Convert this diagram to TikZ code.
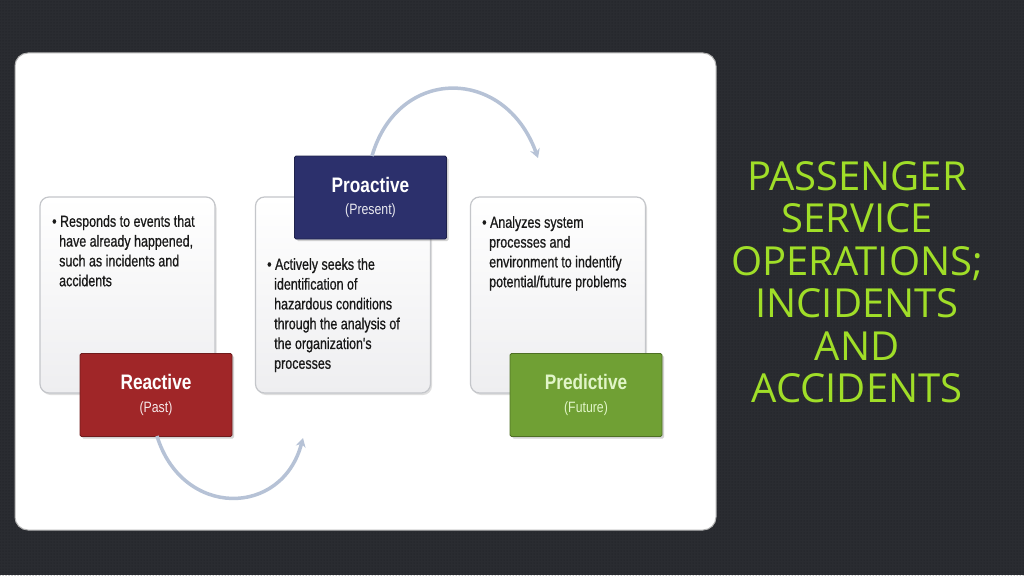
\documentclass[tikz,border=0pt]{standalone}
\usepackage{fontspec}
\setmainfont{Liberation Sans}
\newfontfamily\narrowfont[FakeStretch=0.82]{Liberation Sans}
\newfontfamily\narrowbody[FakeStretch=0.78,FakeBold=0.7]{Liberation Sans}
\newfontfamily\titlefont{Open Sans}
\usetikzlibrary{arrows.meta,shadows,patterns}
\definecolor{bgdark}{RGB}{42,44,49}
\definecolor{bgdot}{RGB}{28,29,33}
\definecolor{titlegreen}{RGB}{160,222,40}
\definecolor{reactred}{RGB}{160,38,40}
\definecolor{problue}{RGB}{44,48,108}
\definecolor{predgreen}{RGB}{112,160,52}
\definecolor{predtext}{RGB}{225,245,200}
\definecolor{arrowcol}{RGB}{182,194,214}
\definecolor{boxborder}{RGB}{196,198,202}
\definecolor{boxfill}{RGB}{238,238,240}
\definecolor{bodytext}{RGB}{25,25,25}
\tikzset{
  contentbox/.style={draw=boxborder, line width=1.2pt, rounded corners=9pt,
    top color=white, bottom color=boxfill,
    minimum width=175pt, minimum height=196pt,
    drop shadow={shadow xshift=1.5pt, shadow yshift=-2pt, opacity=0.25}},
  labelbox/.style={rectangle, minimum width=152pt, minimum height=83pt,
    rounded corners=1.5pt, line width=0.8pt,
    drop shadow={shadow xshift=2pt, shadow yshift=-2pt, opacity=0.35},
    align=center, inner sep=0pt, font=\narrowfont\fontsize{15}{23}\selectfont},
  bodytxt/.style={text=bodytext, align=left, anchor=north west,
    font=\narrowbody\fontsize{16}{19.8}\selectfont, inner sep=0pt},
  cyclearrow/.style={draw=arrowcol, line width=3.5pt,
    -{Stealth[length=9pt,width=10pt,inset=3pt]}},
  titletxt/.style={text=titlegreen, align=center,
    font=\titlefont\fontsize{40}{42.5}\selectfont}
}
\newcommand{\headtxt}[1]{{\bfseries\fontsize{21}{23}\selectfont #1}}
\begin{document}
\begin{tikzpicture}[x=1pt,y=-1pt]
\useasboundingbox (0,0) rectangle (1024,575);
% background
\fill[bgdark] (0,0) rectangle (1024,575);
\fill[pattern=dots, pattern color=bgdot] (0,0) rectangle (1024,575);
% white panel
\node[draw=gray!60, line width=1pt, fill=white, rounded corners=13pt,
  minimum width=701pt, minimum height=477pt, inner sep=0pt] (panel) at (365.5,291.5) {};
% content boxes
\node[contentbox] (rbox) at (127.5,295) {};
\node[contentbox] (pbox) at (343,295) {};
\node[contentbox] (fbox) at (558,295) {};
% body texts
\node[bodytxt] (rtxt) at (52,215) {\textbullet\ Responds to events that\\\hspace{7pt}have already happened,\\\hspace{7pt}such as incidents and\\\hspace{7pt}accidents};
\node[bodytxt] (ptxt) at (267,258) {\textbullet\ Actively seeks the\\\hspace{7pt}identification of\\\hspace{7pt}hazardous conditions\\\hspace{7pt}through the analysis of\\\hspace{7pt}the organization's\\\hspace{7pt}processes};
\node[bodytxt] (ftxt) at (482,216) {\textbullet\ Analyzes system\\\hspace{7pt}processes and\\\hspace{7pt}environment to indentify\\\hspace{7pt}potential/future problems};
% label boxes
\node[labelbox, fill=reactred, draw=reactred!70!black, text=white] (react) at (156,395)
  {\headtxt{Reactive}\\\textcolor{white!90!reactred}{(Past)}};
\node[labelbox, fill=problue, draw=problue!70!black, text=white] (proact) at (370.5,197.5)
  {\headtxt{Proactive}\\[-0.5pt]\textcolor{white!90!problue}{(Present)}};
\node[labelbox, fill=predgreen, draw=predgreen!70!black, text=predtext] (pred) at (586,395)
  {\headtxt{Predictive}\\(Future)};
% arrows
\coordinate (topstart) at (372,156);
\coordinate (topend) at (538,158);
\coordinate (botstart) at (157,436);
\coordinate (botend) at (303,438);
\draw[cyclearrow] (topstart) .. controls (398,66) and (505,66) .. (topend);
\draw[cyclearrow] (botstart) .. controls (182,518) and (282,518) .. (botend);
% title
\node[titletxt] (title) at (857,282) {PASSENGER\\SERVICE\\OPERATIONS;\\INCIDENTS\\AND\\ACCIDENTS};
\end{tikzpicture}
\end{document}
